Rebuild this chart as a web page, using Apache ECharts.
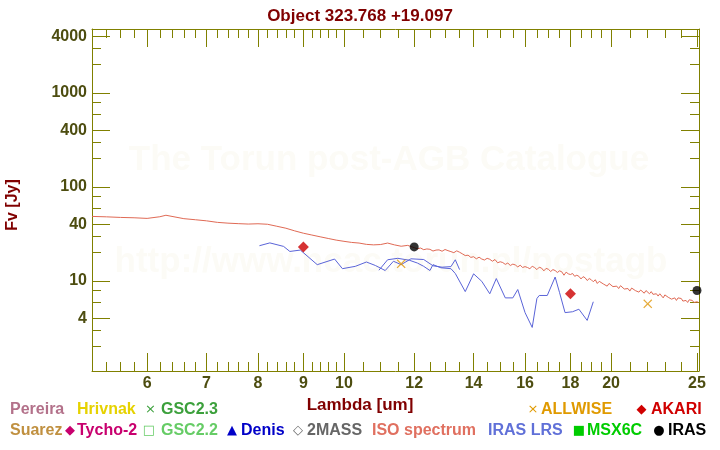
<!DOCTYPE html>
<html><head><meta charset="utf-8">
<script src="https://cdn.jsdelivr.net/npm/echarts@6/dist/echarts.min.js"></script>
<style>html,body{margin:0;padding:0;background:#fff}#c{width:720px;height:450px}</style>
</head><body><div id="c"></div>
<script>
// ---------- data ----------
const xMajorTicks = [6, 7, 8, 9, 10, 12, 14, 16, 18, 20, 25];
const xMinorTicks = [5.4, 5.6, 5.8, 6.2, 6.4, 6.6, 6.8, 7.2, 7.4, 7.6, 7.8, 8.2, 8.4, 8.6, 8.8, 9.2, 9.4, 9.6, 9.8,
  10.5, 11, 11.5, 12.5, 13, 13.5, 14.5, 15, 15.5, 16.5, 17, 17.5, 18.5, 19, 19.5, 21, 22, 23, 24];
const yMajorTicks = [4, 10, 40, 100, 400, 1000, 4000];
const yMinorTicks = [2, 3, 6, 8, 20, 30, 60, 80, 200, 300, 600, 800, 2000, 3000];

const isoWave = [5.2, 5.4, 5.6, 5.8, 6.0, 6.2, 6.3, 6.4, 6.6, 6.8, 7.0, 7.2, 7.4, 7.6, 7.8, 8.0, 8.2, 8.4, 8.6, 8.8,
  9.0, 9.2, 9.4, 9.6, 9.8, 10.0, 10.2, 10.4, 10.6, 10.8, 11.0, 11.2, 11.4, 11.6, 11.8,
  12.0, 12.1, 12.2, 12.3, 12.4, 12.5, 12.6, 12.7, 12.8, 12.9, 13.0, 13.1, 13.2, 13.3, 13.4, 13.5, 13.6, 13.7, 13.8, 13.9,
  14.0, 14.1, 14.2, 14.3, 14.4, 14.5, 14.6, 14.7, 14.8, 14.9, 15.0, 15.1, 15.2, 15.3, 15.4, 15.5, 15.6, 15.7, 15.8, 15.9,
  16.0, 16.1, 16.2, 16.3, 16.4, 16.5, 16.6, 16.7, 16.8, 16.9, 17.0, 17.1, 17.2, 17.3, 17.4, 17.5, 17.6, 17.7, 17.8, 17.9,
  18.0, 18.1, 18.2, 18.3, 18.4, 18.5, 18.6, 18.7, 18.8, 18.9, 19.0, 19.1, 19.2, 19.3, 19.4, 19.5, 19.6, 19.7, 19.8, 19.9,
  20.0, 20.1, 20.2, 20.3, 20.4, 20.5, 20.6, 20.7, 20.8, 20.9, 21.0, 21.1, 21.2, 21.3, 21.4, 21.5, 21.6, 21.7, 21.8, 21.9,
  22.0, 22.1, 22.2, 22.3, 22.4, 22.5, 22.6, 22.7, 22.8, 22.9, 23.0, 23.1, 23.2, 23.3, 23.4, 23.5, 23.6, 23.7, 23.8, 23.9,
  24.0, 24.1, 24.2, 24.3, 24.4, 24.5, 24.6, 24.7, 24.8, 24.9, 25.0, 25.1];
const isoFlux = [48.6, 48.1, 47.4, 47.0, 46.3, 48.2, 50.0, 48.6, 46.0, 44.8, 43.6, 42.0, 41.2, 40.7, 40.3, 40.6, 40.1, 38.2, 36.4, 34.1,
  32.2, 30.8, 29.5, 28.3, 27.2, 26.4, 25.7, 25.3, 24.5, 24.2, 24.4, 25.3, 24.2, 23.4, 23.9,
  22.6, 22.0, 22.4, 21.5, 21.9, 21.7, 20.8, 21.3, 21.4, 20.7, 21.6, 21.0, 20.5, 20.0, 20.9, 20.2, 19.4, 18.6, 18.8, 17.8,
  18.1, 17.2, 17.9, 17.1, 16.7, 17.4, 17.0, 16.2, 16.9, 15.6, 16.0, 15.7, 15.0, 15.5, 14.6, 15.1, 14.8, 14.1, 14.7, 13.9,
  14.2, 13.9, 13.5, 14.3, 13.9, 13.2, 14.0, 13.7, 12.8, 13.6, 13.3, 12.6, 13.2, 12.9, 12.3, 12.8, 12.5, 11.5, 12.4, 11.9,
  11.7, 12.0, 11.2, 11.5, 11.2, 10.5, 11.1, 10.8, 10.1, 10.6, 10.3, 9.8, 10.3, 9.4, 9.9, 9.7, 9.3, 9.6, 8.8, 9.4,
  9.2, 8.7, 9.0, 8.8, 8.3, 8.9, 8.6, 8.2, 8.5, 8.3, 7.8, 8.4, 8.1, 7.9, 8.2, 7.6, 8.0, 7.8, 7.4, 7.9,
  7.6, 7.3, 7.7, 7.2, 7.4, 7.3, 6.9, 7.3, 7.0, 6.6, 7.1, 6.8, 6.7, 6.9, 6.4, 6.7, 6.6, 6.2, 6.6, 6.3,
  6.5, 6.1, 6.4, 6.2, 5.9, 6.3, 6.1, 6.2, 5.9, 6.1, 6.0, 5.9];

const lrsBlueWave = [8.03, 8.25, 8.55, 8.69, 8.93, 9.33, 9.76, 9.96, 10.3, 10.6, 10.85, 11.13, 11.37, 11.6, 11.9, 12.3, 12.6, 12.9, 13.2, 13.35, 13.5];
const lrsBlueFlux = [23.7, 25.4, 23.3, 20.6, 21.3, 14.9, 17.1, 13.5, 14.3, 15.9, 14.6, 12.9, 16.2, 14.9, 17.2, 16.9, 14.5, 14.0, 14.2, 16.8, 13.2];
const lrsRedWave = [10.95, 11.2, 11.5, 11.85, 12.1, 12.3, 12.5, 12.6, 12.86, 13.2, 13.35, 13.7, 14.0, 14.3, 14.6, 14.85, 15.2, 15.5, 15.7, 16.0, 16.3, 16.5, 16.6, 16.95, 17.3, 17.5, 17.75, 18.1, 18.4, 18.8, 19.1];
const lrsRedFlux = [13.0, 16.8, 17.4, 16.6, 15.5, 14.3, 12.9, 14.9, 13.8, 13.5, 12.0, 7.7, 11.9, 9.9, 7.3, 10.6, 6.6, 6.6, 8.1, 4.6, 3.2, 6.5, 7.0, 7.0, 11.0, 7.5, 4.6, 4.7, 5.0, 3.8, 6.0];

const akariWave = [9.0, 18.0];
const akariFlux = [23.0, 7.3];
const irasWave = [12.0, 25.0];
const irasFlux = [23.0, 7.9];
const allwiseWave = [11.6, 22.0];
const allwiseFlux = [15.2, 5.7];

// ---------- styling ----------
const FONT = 'Liberation Sans, Arial, sans-serif';
const AX = '#808000';
const LBL = '#4d4d10';
const DARKRED = '#800000';
const XMIN = 5.2, XMAX = 25.13, YMIN = 1.1, YMAX = 4800;

const zip = (a, b) => a.map((v, i) => [v, b[i]]);
const fmt = v => String(Math.round(v * 100) / 100);

function xAxis(pos, ticks, len, labels, line) {
  return {
    type: 'log', position: pos, min: XMIN, max: XMAX,
    axisLine: { show: line, onZero: false, lineStyle: { color: AX, width: 1 } },
    axisTick: { show: true, inside: true, length: len, customValues: ticks, lineStyle: { color: AX, width: 1 } },
    axisLabel: labels ? { show: true, customValues: ticks, formatter: fmt, color: LBL, fontFamily: FONT, fontWeight: 'bold', fontSize: 16, margin: 5 } : { show: false },
    splitLine: { show: false }, minorTick: { show: false }
  };
}
function yAxis(pos, ticks, len, labels, line) {
  return {
    type: 'log', position: pos, min: YMIN, max: YMAX,
    axisLine: { show: line, onZero: false, lineStyle: { color: AX, width: 1 } },
    axisTick: { show: true, inside: true, length: len, customValues: ticks, lineStyle: { color: AX, width: 1 } },
    axisLabel: labels ? { show: true, customValues: ticks, formatter: fmt, color: LBL, fontFamily: FONT, fontWeight: 'bold', fontSize: 16, margin: 5 } : { show: false },
    splitLine: { show: false }, minorTick: { show: false }
  };
}

const crossPath = 'path://M1,0 L5,4 L9,0 L10,1 L6,5 L10,9 L9,10 L5,6 L1,10 L0,9 L4,5 L0,1 Z';

// legend entries: [x, y, text, color, isSymbol]
const legendItems = [
  [10, 410, 'Pereira', '#b3718a', false],
  [77, 410, 'Hrivnak', '#e6d200', false],
  [150.5, 410, '×', '#3ca03c', true],
  [161, 410, 'GSC2.3', '#3ca03c', false],
  [533, 410, '×', '#e09a00', true],
  [541, 410, 'ALLWISE', '#e09a00', false],
  [641.5, 410, '◆', '#d00000', true],
  [651, 410, 'AKARI', '#d00000', false],
  [10, 431, 'Suarez', '#c09040', false],
  [70, 431, '◆', '#c8006e', true],
  [77, 431, 'Tycho-2', '#c8006e', false],
  [149, 431, '□', '#66cc66', true],
  [161, 431, 'GSC2.2', '#66cc66', false],
  [232, 431, '▲', '#0000c8', true],
  [241, 431, 'Denis', '#0000c8', false],
  [298, 431, '◇', '#666666', true],
  [307, 431, '2MASS', '#666666', false],
  [372, 431, 'ISO spectrum', '#e07060', false],
  [488, 431, 'IRAS LRS', '#6070d8', false],
  [579, 431, '■', '#00cc00', true],
  [587, 431, 'MSX6C', '#00cc00', false],
  [659, 431, '●', '#000000', true],
  [668, 431, 'IRAS', '#000000', false]
];

const graphics = [
  { type: 'text', x: 389, y: 160, z: -1, silent: true, style: { text: 'The Torun post-AGB Catalogue', fill: '#fcfbf6', font: 'bold 35px ' + FONT, align: 'center', verticalAlign: 'middle' } },
  { type: 'text', x: 391, y: 262, z: -1, silent: true, style: { text: 'http://www.ncac.torun.pl/postagb', fill: '#fcfbf6', font: 'bold 35px ' + FONT, align: 'center', verticalAlign: 'middle' } },
  { type: 'text', x: 360, y: 405, style: { text: 'Lambda [um]', fill: DARKRED, font: 'bold 17px ' + FONT, align: 'center', verticalAlign: 'middle' } },
  { type: 'text', x: 13, y: 205, rotation: Math.PI / 2, style: { text: 'Fv [Jy]', fill: DARKRED, font: 'bold 16px ' + FONT, align: 'center', verticalAlign: 'middle' } }
];
legendItems.forEach(([x, y, t, c, sym]) => {
  graphics.push({ type: 'text', x: x, y: y, style: { text: t, fill: c, font: sym ? '13px DejaVu Sans' : 'bold 16px ' + FONT, align: sym ? 'center' : 'left', verticalAlign: 'middle' } });
});

const chart = echarts.init(document.getElementById('c'), null, { renderer: 'canvas' });
chart.setOption({
  animation: false,
  backgroundColor: '#ffffff',
  title: { text: 'Object 323.768 +19.097', left: 'center', top: 3, textStyle: { color: DARKRED, fontFamily: FONT, fontWeight: 'bold', fontSize: 17 } },
  grid: { left: 92, top: 29, width: 607, height: 342, outerBoundsMode: 'none', containLabel: false },
  xAxis: [
    xAxis('bottom', xMajorTicks, 18, true, true),
    xAxis('bottom', xMinorTicks, 9, false, false),
    xAxis('top', xMajorTicks, 18, false, true),
    xAxis('top', xMinorTicks, 9, false, false)
  ],
  yAxis: [
    yAxis('left', yMajorTicks, 18, true, true),
    yAxis('left', yMinorTicks, 9, false, false),
    yAxis('right', yMajorTicks, 18, false, true),
    yAxis('right', yMinorTicks, 9, false, false)
  ],
  graphic: graphics,
  series: [
    { name: 'ISO spectrum', type: 'line', data: zip(isoWave, isoFlux), showSymbol: false, lineStyle: { color: '#e06a55', width: 1 }, z: 3 },
    { name: 'IRAS LRS', type: 'line', data: zip(lrsBlueWave, lrsBlueFlux), showSymbol: false, lineStyle: { color: '#5a64d8', width: 1 }, z: 4 },
    { name: 'IRAS LRS b', type: 'line', data: zip(lrsRedWave, lrsRedFlux), showSymbol: false, lineStyle: { color: '#5a64d8', width: 1 }, z: 4 },
    { name: 'AKARI', type: 'scatter', data: zip(akariWave, akariFlux), symbol: 'diamond', symbolSize: 11, itemStyle: { color: '#cc0000' }, z: 5 },
    { name: 'IRAS', type: 'scatter', data: zip(irasWave, irasFlux), symbol: 'circle', symbolSize: 9, itemStyle: { color: '#000000' }, z: 5 },
    { name: 'ALLWISE', type: 'scatter', data: zip(allwiseWave, allwiseFlux), symbol: crossPath, symbolSize: 9, itemStyle: { color: '#e0960a' }, z: 5 }
  ]
});
</script>
</body></html>
